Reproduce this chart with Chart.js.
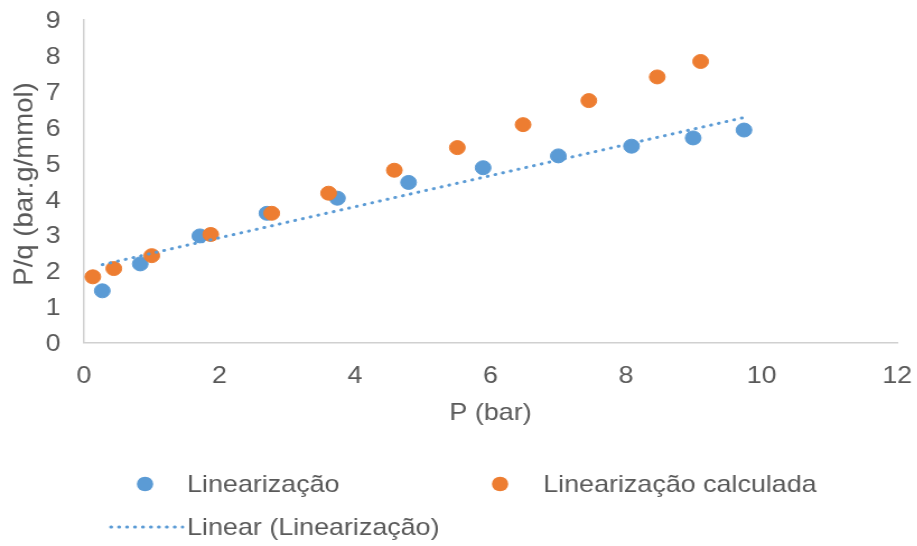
<!DOCTYPE html>
<html>
<head>
<meta charset="utf-8">
<script src="https://cdn.jsdelivr.net/npm/chart.js@4.4.1/dist/chart.umd.min.js"></script>
<style>
  html, body { margin: 0; padding: 0; background: #fff; overflow: hidden; }
  /* the chart is drawn on a narrower canvas and widened to the page width */
  #wrap { width: 819px; height: 546px; transform: scaleX(1.12); transform-origin: 0 0; }
</style>
</head>
<body>
<div id="wrap"><canvas id="chart" width="819" height="546"></canvas></div>
<script>
// measured series: P (bar) and P/q (bar.g/mmol)
const pressure = [0.27, 0.83, 1.71, 2.70, 3.74, 4.79, 5.89, 7.00, 8.08, 8.99, 9.74];
const ratio = [1.44, 2.19, 2.97, 3.60, 4.02, 4.46, 4.87, 5.20, 5.47, 5.70, 5.92];

// calculated series
const pressureCalc = [0.13, 0.44, 1.00, 1.87, 2.77, 3.61, 4.58, 5.51, 6.48, 7.45, 8.46, 9.10];
const ratioCalc = [1.83, 2.06, 2.42, 3.01, 3.60, 4.16, 4.80, 5.43, 6.07, 6.74, 7.40, 7.83];

const xTicks = [0, 2, 4, 6, 8, 10, 12];
const yTicks = [0, 1, 2, 3, 4, 5, 6, 7, 8, 9];

const seriesNames = ['Linearização', 'Linearização calculada', 'Linear (Linearização)'];
const xTitle = 'P (bar)';
const yTitle = 'P/q (bar.g/mmol)';
const blue = '#5B9BD5';
const orange = '#ED7D31';
const textColor = '#595959';
const axisColor = '#d0d0d0';
const fontFamily = '"Liberation Sans", Arial, sans-serif';
const fontSize = 24;

const toPoints = (xs, ys) => xs.map((x, i) => ({ x: x, y: ys[i] }));

// least squares trend line over the measured series
function linearFit(xs, ys) {
    const n = xs.length;
    const mx = xs.reduce((a, b) => a + b, 0) / n;
    const my = ys.reduce((a, b) => a + b, 0) / n;
    let sxy = 0, sxx = 0;
    xs.forEach((x, i) => {
        sxy += (x - mx) * (ys[i] - my);
        sxx += (x - mx) * (x - mx);
    });
    const slope = sxy / sxx;
    const intercept = my - slope * mx;
    const x0 = Math.min(...xs), x1 = Math.max(...xs);
    return [{ x: x0, y: intercept + slope * x0 }, { x: x1, y: intercept + slope * x1 }];
}

// vertical axis title, widened along the text like the horizontal labels
const yAxisTitle = {
    id: 'yAxisTitle',
    afterDraw(chart) {
        const ctx = chart.ctx;
        const area = chart.chartArea;
        ctx.save();
        ctx.translate(22, (area.top + area.bottom) / 2 + 3);
        ctx.rotate(-Math.PI / 2);
        ctx.scale(1.147, 1);
        ctx.font = fontSize + 'px ' + fontFamily;
        ctx.fillStyle = textColor;
        ctx.textAlign = 'center';
        ctx.textBaseline = 'middle';
        ctx.fillText(yTitle, 0, 0);
        ctx.restore();
    }
};

// legend below the plot, two columns
const bottomLegend = {
    id: 'bottomLegend',
    afterDraw(chart) {
        const ctx = chart.ctx;
        ctx.save();
        ctx.font = fontSize + 'px ' + fontFamily;
        ctx.textBaseline = 'middle';
        ctx.textAlign = 'left';

        const dot = (x, y, color) => {
            ctx.beginPath();
            ctx.arc(x, y, 7.3, 0, Math.PI * 2);
            ctx.fillStyle = color;
            ctx.fill();
        };

        dot(129.5, 484, blue);
        ctx.fillStyle = textColor;
        ctx.fillText(seriesNames[0], 167, 485);

        dot(446.5, 484, orange);
        ctx.fillStyle = textColor;
        ctx.fillText(seriesNames[1], 485, 485);

        ctx.beginPath();
        ctx.strokeStyle = blue;
        ctx.lineWidth = 3;
        ctx.lineCap = 'round';
        ctx.setLineDash([0.5, 6.6]);
        ctx.moveTo(99, 527);
        ctx.lineTo(163, 527);
        ctx.stroke();
        ctx.setLineDash([]);
        ctx.fillStyle = textColor;
        ctx.fillText(seriesNames[2], 167, 528);
        ctx.restore();
    }
};

// axis lines only; the invisible tick marks keep the labels away from the axis
const hiddenTicks = length => ({
    display: true,
    drawOnChartArea: false,
    drawTicks: true,
    tickLength: length,
    color: 'rgba(0,0,0,0)'
});

const ctx = document.getElementById('chart').getContext('2d');
new Chart(ctx, {
    type: 'scatter',
    data: {
        datasets: [
            {
                label: seriesNames[2],
                data: linearFit(pressure, ratio),
                showLine: true,
                borderColor: blue,
                borderWidth: 3,
                borderDash: [0.5, 6.6],
                borderCapStyle: 'round',
                pointRadius: 0,
                fill: false,
                order: 0
            },
            {
                label: seriesNames[1],
                data: toPoints(pressureCalc, ratioCalc),
                backgroundColor: orange,
                borderColor: orange,
                borderWidth: 1,
                pointRadius: 7,
                order: 1
            },
            {
                label: seriesNames[0],
                data: toPoints(pressure, ratio),
                backgroundColor: blue,
                borderColor: blue,
                borderWidth: 1,
                pointRadius: 7,
                order: 2
            }
        ]
    },
    options: {
        responsive: false,
        animation: false,
        events: [],
        layout: {
            padding: { left: 0, right: 18, top: 19.5, bottom: 106 }
        },
        plugins: {
            legend: { display: false },
            tooltip: { enabled: false }
        },
        scales: {
            x: {
                type: 'linear',
                min: 0,
                max: 12,
                afterBuildTicks: scale => { scale.ticks = xTicks.map(v => ({ value: v })); },
                afterFit: scale => { scale.height = 97.5; },
                grid: hiddenTicks(19),
                border: { color: axisColor, width: 1.5 },
                ticks: {
                    color: textColor,
                    font: { family: fontFamily, size: fontSize },
                    padding: 0,
                    maxRotation: 0
                },
                title: {
                    display: true,
                    text: xTitle,
                    color: textColor,
                    font: { family: fontFamily, size: fontSize },
                    padding: { top: 0, bottom: 12 }
                }
            },
            y: {
                type: 'linear',
                min: 0,
                max: 9,
                afterBuildTicks: scale => { scale.ticks = yTicks.map(v => ({ value: v })); },
                afterFit: scale => { scale.width = 75; },
                grid: hiddenTicks(21),
                border: { color: axisColor, width: 1.5 },
                ticks: {
                    color: textColor,
                    font: { family: fontFamily, size: fontSize },
                    padding: 0,
                    labelOffset: 2
                },
                title: { display: false }
            }
        }
    },
    plugins: [yAxisTitle, bottomLegend]
});
</script>
</body>
</html>
